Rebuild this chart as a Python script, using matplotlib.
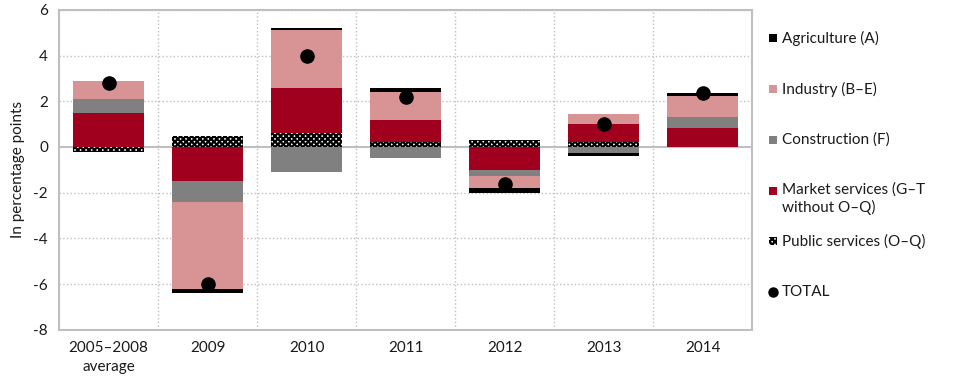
import matplotlib.pyplot as plt
import matplotlib.patches as mpatches
from matplotlib.lines import Line2D
import numpy as np

plt.rcParams['font.family'] = ['Lato', 'DejaVu Sans']
plt.rcParams['axes.unicode_minus'] = False
plt.rcParams['hatch.linewidth'] = 1.6

years = ['2005–2008\naverage', '2009', '2010', '2011', '2012', '2013', '2014']

# contributions in percentage points (stacking order: public, market, construction, industry, agriculture)
public = [-0.2, 0.5, 0.6, 0.2, 0.3, 0.2, 0.0]
market = [1.5, -1.5, 2.0, 1.0, -1.0, 0.8, 0.85]
construction = [0.6, -0.9, -1.1, -0.5, -0.25, -0.27, 0.45]
industry = [0.8, -3.8, 2.5, 1.2, -0.55, 0.43, 0.95]
agriculture = [0.0, -0.2, 0.1, 0.2, -0.2, -0.11, 0.13]
total = [2.8, -6.0, 4.0, 2.2, -1.6, 1.0, 2.35]

series = [
    ('Public services (O–Q)', public, 'white'),
    ('Market services (G–T\nwithout O–Q)', market, '#A0001E'),
    ('Construction (F)', construction, '#808080'),
    ('Industry (B–E)', industry, '#D89494'),
    ('Agriculture (A)', agriculture, 'black'),
]

fig = plt.figure(figsize=(9.6, 3.77), dpi=100)
ax = fig.add_axes([0.0615, 0.125, 0.722, 0.849])

x = np.arange(len(years))
pos = np.zeros(len(years))
neg = np.zeros(len(years))
for name, vals, col in series:
    vals = np.array(vals)
    bottom = np.where(vals >= 0, pos, neg)
    if name.startswith('Public'):
        ax.bar(x, vals, 0.72, bottom=bottom, color='white', edgecolor='black',
               hatch='xxxxxx', linewidth=0, zorder=3)
    else:
        ax.bar(x, vals, 0.72, bottom=bottom, color=col, linewidth=0, zorder=3)
    pos = pos + np.where(vals >= 0, vals, 0)
    neg = neg + np.where(vals < 0, vals, 0)

ax.scatter(x, total, s=90, color='black', zorder=5)

ax.set_xlim(-0.5, len(years) - 0.5)
ax.set_ylim(-8, 6)
ax.set_yticks(np.arange(-8, 7, 2))
ax.set_xticks(x)
ax.set_xticklabels(years, fontsize=11, color='#1a1a1a')
for lbl in ax.get_xticklabels():
    lbl.set_linespacing(1.5)
ax.tick_params(axis='y', labelsize=11, colors='#1a1a1a')
ax.tick_params(length=0, pad=8)
ax.set_ylabel('In percentage points', fontsize=11, color='#1a1a1a', labelpad=6)

for yv in np.arange(-8, 7, 2):
    if yv != 0:
        ax.axhline(yv, color='#BFBFBF', linestyle=':', linewidth=1, zorder=1)
for xv in np.arange(0.5, len(years) - 0.5, 1):
    ax.axvline(xv, color='#BFBFBF', linestyle=':', linewidth=1, zorder=1)
ax.axhline(0, color='#BFBFBF', linewidth=1.5, zorder=2)
for s in ax.spines.values():
    s.set_color('#BFBFBF')
    s.set_linewidth(1.5)

# legend drawn manually to match spacing
W, H = 960, 377
entries = [
    ('Agriculture (A)', 'black', 38, 'sq'),
    ('Industry (B–E)', '#D89494', 89, 'sq'),
    ('Construction (F)', '#808080', 140, 'sq'),
    ('Market services (G–T\nwithout O–Q)', '#A0001E', 191, 'sq'),
    ('Public services (O–Q)', 'white', 241, 'hatch'),
    ('TOTAL', 'black', 292, 'dot'),
]
for label, col, yp, kind in entries:
    yf = 1 - yp / H
    if kind == 'dot':
        fig.add_artist(Line2D([773 / W], [yf], marker='o', markersize=6.5,
                              color='black', transform=fig.transFigure))
    else:
        fig.add_artist(mpatches.Rectangle((769 / W, yf - 4 / H), 8 / W, 8 / H,
                                          facecolor=col, edgecolor='black' if kind == 'hatch' else col,
                                          hatch='xxxxxx' if kind == 'hatch' else None,
                                          linewidth=0, transform=fig.transFigure))
    if '\n' in label:
        fig.text(782 / W, 1 - 182 / H, label, fontsize=11, color='#1a1a1a', va='top', linespacing=1.3)
    else:
        fig.text(782 / W, yf, label, fontsize=11, color='#1a1a1a', va='center')

fig.savefig('out.png', dpi=100)
